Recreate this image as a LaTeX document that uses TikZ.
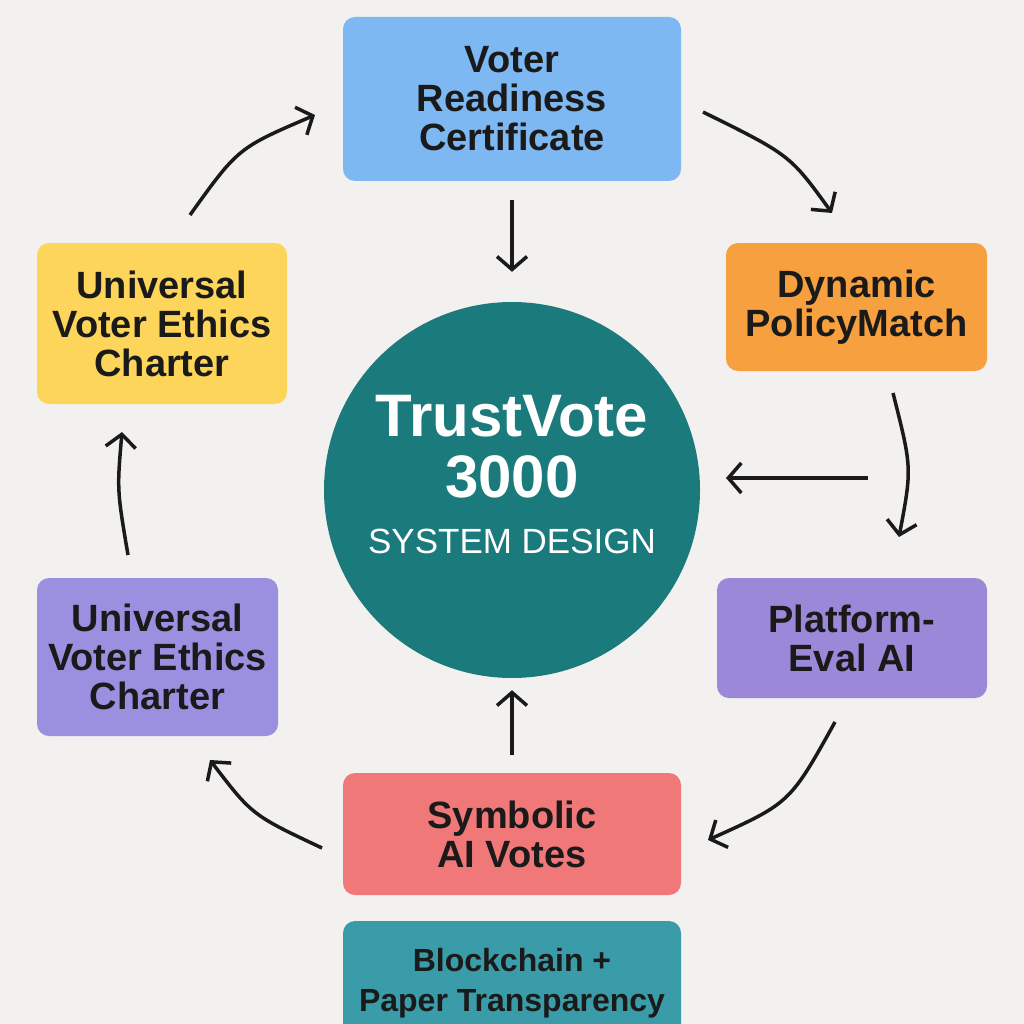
\documentclass[tikz,border=0pt]{standalone}
\usepackage{fontspec}
\setmainfont{Liberation Sans}
\usetikzlibrary{arrows.meta}
\definecolor{bg}{HTML}{F2F1EF}
\definecolor{cblue}{HTML}{7DB8F2}
\definecolor{cyellow}{HTML}{FDD55A}
\definecolor{corange}{HTML}{F7A03F}
\definecolor{cpurple}{HTML}{9B8FE0}
\definecolor{cpurpleB}{HTML}{9C88D8}
\definecolor{cred}{HTML}{F07878}
\definecolor{cteal}{HTML}{3A9CA8}
\definecolor{ccircle}{HTML}{1B7A7C}
\definecolor{ink}{HTML}{1A1A1A}
\tikzset{
  card/.style={rounded corners=12pt, inner sep=0pt, align=center, text=ink,
    font=\fontsize{38}{39}\selectfont\bfseries},
  flow/.style={line width=3.5pt, draw=ink, -{Straight Barb[length=13pt,width=30pt,line width=3.5pt]}}
}
\begin{document}
\begin{tikzpicture}[x=1pt,y=-1pt]
\fill[bg] (0,0) rectangle (1024,1024);
\useasboundingbox (0,0) rectangle (1024,1024);
\begin{scope}
\clip (0,0) rectangle (1024,1024);
\node[card, fill=cblue, minimum width=338pt, minimum height=164pt] (top) at (512,99) {Voter\\Readiness\\Certificate};
\node[card, fill=cyellow, minimum width=250pt, minimum height=161pt] (yel) at (162,323.5) {Universal\\Voter Ethics\\Charter};
\node[card, fill=corange, minimum width=261pt, minimum height=128pt] (ora) at (856.5,307) {Dynamic\\PolicyMatch};
\node[card, fill=cpurple, minimum width=241pt, minimum height=158pt] (pl) at (157.5,657) {Universal\\Voter Ethics\\Charter};
\node[card, fill=cpurpleB, minimum width=270pt, minimum height=120pt] (pr) at (852,638) {Platform-\\Eval AI};
\node[card, fill=cred, minimum width=338pt, minimum height=122pt] (red) at (512,834) {Symbolic\\AI Votes};
\node[card, fill=cteal, minimum width=338pt, minimum height=120pt] (teal) at (512,981) {};
\node[text=ink, font=\fontsize{32}{40}\selectfont\bfseries, align=center] (tealtxt) at (512,983) {Blockchain +\\Paper Transparency};
\end{scope}
\node[circle, fill=ccircle, minimum size=376pt, inner sep=0pt] (hub) at (512,490) {};
\node[text=white, font=\fontsize{60}{61}\selectfont\bfseries, align=center] (title) at (512,447) {TrustVote\\3000};
\node[text=white, font=\fontsize{35}{36}\selectfont] (sub) at (512,541) {SYSTEM DESIGN};
% connectors
\coordinate (a1) at (190,215); \coordinate (a2) at (315,115);
\coordinate (b1) at (703,112); \coordinate (b2) at (832,213);
\coordinate (c1) at (893,393); \coordinate (c2) at (899,537);
\coordinate (d1) at (835,722); \coordinate (d2) at (708,840);
\coordinate (e1) at (322,848); \coordinate (e2) at (210,760);
\coordinate (f1) at (128,555); \coordinate (f2) at (122,432);
\coordinate (g1) at (868,478); \coordinate (g2) at (726,478);
\draw[flow] (a1) .. controls (238,148) .. (a2);
\draw[flow] (b1) .. controls (790,155) .. (b2);
\draw[flow] (c1) .. controls (912,468) .. (c2);
\draw[flow] (d1) .. controls (790,803) .. (d2);
\draw[flow] (e1) .. controls (252,815) .. (e2);
\draw[flow] (f1) .. controls (117,490) .. (f2);
\draw[flow] (g1) -- (g2);
\draw[flow, shorten <=19pt, shorten >=30pt] (top.south) -- (hub.north);
\draw[flow, shorten <=18pt, shorten >=12pt] (red.north) -- (hub.south);
\end{tikzpicture}
\end{document}
